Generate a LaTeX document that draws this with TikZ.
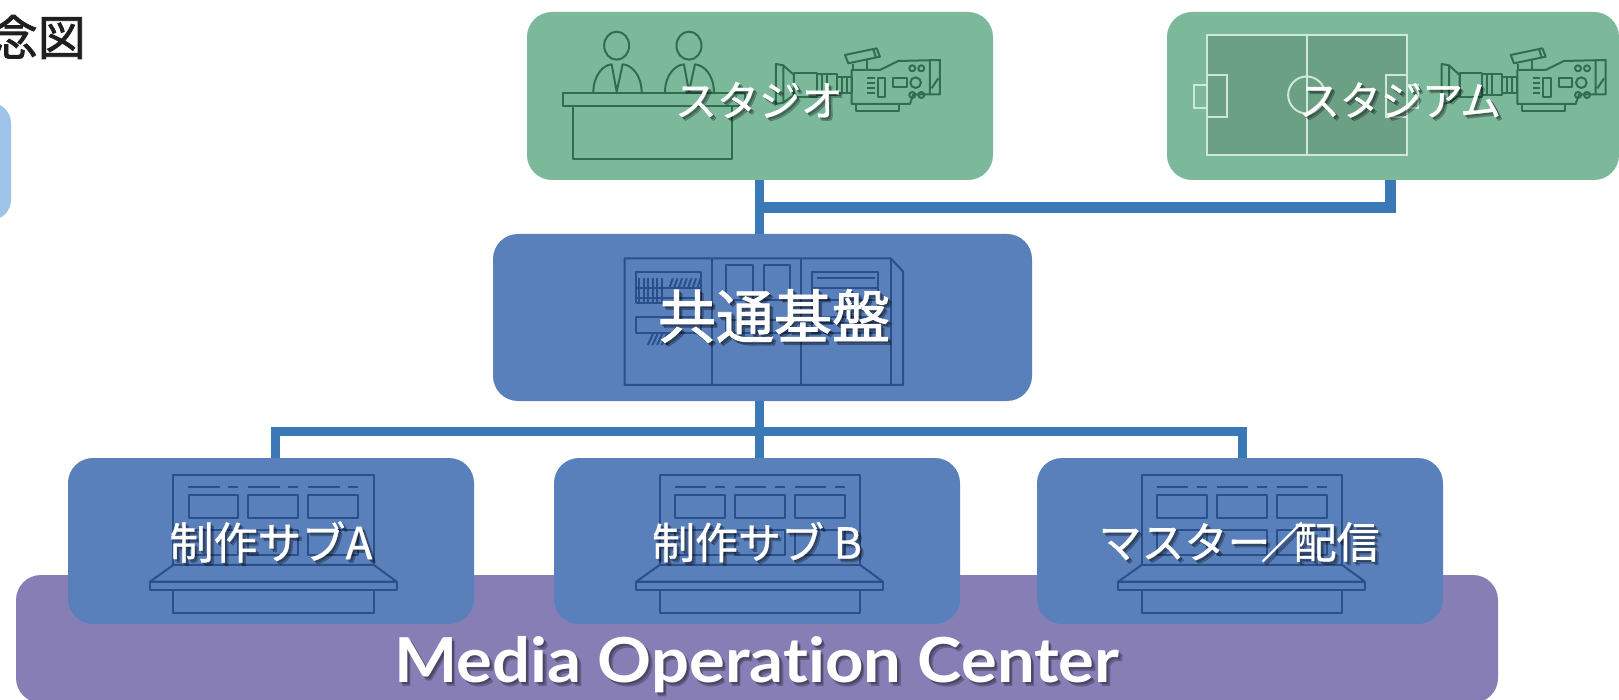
\documentclass[tikz,border=0pt]{standalone}
\usepackage{fontspec}
\newfontfamily\cjk{Noto Sans CJK JP}[FakeBold=0.7]
\newfontfamily\cjkb{Noto Sans CJK JP}[FakeBold=1.6]
\newfontfamily\lat{Lato}[Ligatures=NoCommon,FakeStretch=1.08]
\definecolor{grn}{HTML}{7CB99A}
\definecolor{grnline}{HTML}{2F6E50}
\definecolor{pitch}{HTML}{6BA084}
\definecolor{pitchline}{HTML}{CFE6DA}
\definecolor{blu}{HTML}{5A80BC}
\definecolor{bluline}{HTML}{2B4F88}
\definecolor{conn}{HTML}{3A78B6}
\definecolor{purp}{HTML}{887EB6}
\definecolor{sky}{HTML}{9DC4E8}
\tikzset{
  box/.style={rounded corners=25pt,inner sep=0pt,draw=none},
  bus/.style={draw=conn,line width=9pt},
  busthick/.style={draw=conn,line width=11pt},
  lbl/.style={inner sep=0pt,text=white,anchor=center},
  shd/.style={inner sep=0pt,text=black,text opacity=0.25,anchor=center},
  iconG/.style={draw=grnline,line width=2pt,line join=round},
  iconB/.style={draw=bluline,line width=2pt,line join=round},
  pl/.style={draw=pitchline,line width=2pt},
}
% shadowed label: name, x, y, font, text
\newcommand{\shlabel}[5]{%
  \node[shd] (#1s1) at (#2+2,#3+2) {#4#5};
  \node[shd] (#1s2) at (#2+3.5,#3+3.5) {#4#5};
  \node[lbl] (#1) at (#2,#3) {#4#5};
}
% camera drawn in coordinates of the 3x crop
\newcommand{\camera}[1]{%
\begin{scope}[shift={(#1,0)},x=0.3333pt,y=-0.3333pt,iconG]
  \draw (828,192) -- (850,196) -- (882,225) -- (882,285) -- (850,308) -- (828,312) -- cycle (850,196) -- (850,308);
  \draw (882,218) rectangle (950,290);
  \draw (950,222) rectangle (1010,285);
  \draw (965,222) -- (965,285) (980,222) -- (980,285);
  \draw (1010,230) rectangle (1055,280) (1025,230) -- (1025,280) (1040,230) -- (1040,280);
  \draw (1055,210) -- (1140,210) -- (1195,183) -- (1320,180) -- (1320,283) -- (1240,283) -- (1230,312) -- (1055,312) -- cycle;
  \draw (1068,312) -- (1068,332) -- (1198,332) -- (1198,312);
  \draw (1035,165) -- (1130,145) -- (1140,170) -- (1045,190) -- cycle (1120,148) -- (1128,172);
  \draw (1058,192) -- (1058,210) (1100,180) -- (1100,210);
  \draw (1133,233) rectangle (1155,292) (1180,235) rectangle (1220,260);
  \draw (1102,235) -- (1124,235) (1102,250) -- (1124,250) (1102,265) -- (1124,265) (1102,280) -- (1124,280);
  \draw (1237,205) circle [radius=3pt] (1264,205) circle [radius=3pt];
  \draw (1247,248) circle [radius=5.3pt];
  \draw (1237,285) circle [radius=3pt] (1264,285) circle [radius=3pt];
  \draw (1290,183) -- (1290,283) (1295,265) -- (1315,235);
\end{scope}}
% operating console, in coordinates of the 3x crop
\newcommand{\console}[1]{%
\begin{scope}[shift={(#1,440)},x=0.3333pt,y=-0.3333pt,iconB]
  \draw (520,375) -- (520,105) -- (1122,105) -- (1122,375);
  \draw (565,142) -- (660,142) (685,142) -- (715,142) (745,142) -- (840,142) (865,142) -- (895,142) (925,142) -- (1020,142) (1045,142) -- (1075,142);
  \draw (567,165) rectangle (715,235) (745,165) rectangle (895,235) (925,165) rectangle (1075,235);
  \draw (567,270) rectangle (715,345) (745,270) rectangle (895,345) (925,270) rectangle (1075,345);
  \draw (520,375) -- (1122,375) -- (1190,425) -- (450,425) -- cycle;
  \draw (450,425) rectangle (1190,450);
  \draw (520,450) -- (520,518) -- (1122,518) -- (1122,450);
\end{scope}}
\begin{document}
\begin{tikzpicture}[x=1pt,y=-1pt]
\useasboundingbox (0,0) rectangle (1619,700);
\clip (0,0) rectangle (1619,700);
% title and cut-off box
\node[inner sep=0pt,anchor=east,text=black!88] (title) at (86,37) {\cjkb\fontsize{48}{48}\selectfont 念図};
\node[fill=sky,rounded corners=20pt,minimum width=60pt,minimum height=117pt,inner sep=0pt] (cutbox) at (-19,161.5) {};
% boxes
\node[box,fill=purp,minimum width=1482pt,minimum height=128pt] (moc) at (757,639) {};
\node[box,fill=grn,minimum width=466pt,minimum height=168pt] (studio) at (760,96) {};
\node[box,fill=grn,minimum width=452pt,minimum height=168pt] (stadium) at (1393,96) {};
\node[box,fill=blu,minimum width=539pt,minimum height=167pt] (common) at (762.5,317.5) {};
\node[box,fill=blu,minimum width=406pt,minimum height=166pt] (subA) at (271,541) {};
\node[box,fill=blu,minimum width=406pt,minimum height=166pt] (subB) at (757,541) {};
\node[box,fill=blu,minimum width=406pt,minimum height=166pt] (master) at (1240,541) {};
% connectors
\coordinate (trunk) at (759,207.5);
\coordinate (stadiumDrop) at (1390,207.5);
\coordinate (lowbus) at (759,431.5);
\coordinate (lowA) at (275,431.5);
\coordinate (lowM) at (1242,431.5);
\draw[bus] (trunk |- studio.south) -- (trunk |- common.north);
\draw[busthick] (trunk) -- (stadiumDrop) -- (stadiumDrop |- stadium.south);
\draw[bus] (lowbus |- common.south) -- (lowbus |- subB.north);
\draw[bus] (lowA |- subA.north) -- (lowA) -- (lowM) -- (lowM |- master.north);
% studio icon
\begin{scope}[shift={(500,0)},x=0.3333pt,y=-0.3333pt,iconG]
  \draw (350,137) ellipse [x radius=12.5pt,y radius=14pt];
  \draw (567,137) ellipse [x radius=12.5pt,y radius=14pt];
  \draw (280,278) .. controls (280,225) and (310,195) .. (335,193) -- (350,275) -- (368,193) .. controls (395,195) and (425,225) .. (425,278);
  \draw (495,278) .. controls (495,225) and (525,195) .. (552,193) -- (567,275) -- (585,193) .. controls (612,195) and (642,225) .. (642,278);
  \draw (190,278) rectangle (735,318);
  \draw (220,318) rectangle (697,478);
\end{scope}
\camera{500}
% stadium icon
\begin{scope}[shift={(1120,0)},x=0.3333pt,y=-0.3333pt]
  \fill[pitch] (260,105) rectangle (860,465);
  \draw[pl] (260,105) rectangle (860,465) (560,105) -- (560,465);
  \draw[pl] (260,225) rectangle (322,352) (223,255) rectangle (260,325);
  \draw[pl] (797,225) rectangle (860,352) (860,255) rectangle (895,325);
  \draw[pl] (560,285) circle [radius=18.5pt];
\end{scope}
\camera{1165.7}
% rack icon
\begin{scope}[shift={(480,220)},x=0.3571pt,y=-0.3333pt,iconB]
  \draw (405,115) -- (1150,115) -- (1185,155) -- (1185,495) -- (405,495) -- cycle;
  \draw (650,115) -- (650,495) (900,115) -- (900,495) (1150,115) -- (1150,495);
  \draw (437,155) rectangle (620,250) (437,290) rectangle (620,340);
  \draw (437,205) -- (620,205) (437,235) -- (620,235);
  \foreach \k in {445,458,...,510} {\draw (\k,175) -- (\k,250);}
  \foreach \k in {530,543,...,610} {\draw (\k+10,175) -- (\k,205);}
  \foreach \k in {470,483,...,530} {\draw (\k+15,340) -- (\k,375);}
  \draw (690,135) rectangle (765,240) (795,135) rectangle (868,240);
  \draw (690,300) rectangle (868,340);
  \draw (930,155) rectangle (1115,340);
  \draw (945,175) -- (1105,175) (930,205) -- (1115,205) (930,240) -- (1115,240) (930,290) -- (1115,290) (930,310) -- (1115,310);
\end{scope}
\console{0}
\console{486.3}
\console{968.3}
% labels
\shlabel{tStudio}{759}{100}{\cjk\fontsize{42}{42}\selectfont}{スタジオ}
\shlabel{tStadium}{1400}{100}{\cjk\fontsize{41}{41}\selectfont}{スタジアム}
\shlabel{tCommon}{774}{316}{\cjkb\fontsize{58}{58}\selectfont}{共通基盤}
\shlabel{tA}{271}{542}{\cjk\fontsize{44}{44}\selectfont}{制作サブA}
\shlabel{tB}{757}{542}{\cjk\fontsize{43}{43}\selectfont}{制作サブ B}
\shlabel{tM}{1239}{542}{\cjk\fontsize{43}{43}\selectfont}{マスター\kern-10pt／\kern-10pt配信}
\shlabel{tMoc}{757}{665}{\lat\bfseries\fontsize{62}{62}\selectfont}{Media Operation Center}
\end{tikzpicture}
\end{document}
